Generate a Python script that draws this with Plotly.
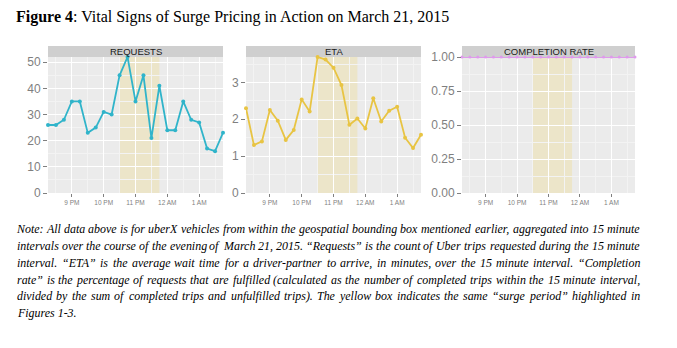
import pandas as pd
import plotly.graph_objects as go

# ---------------- data ----------------
times = pd.date_range("2015-03-21 20:15", periods=23, freq="15min")
requests = [26, 26, 28, 35, 35, 23, 25, 31, 30, 45, 52, 35, 45, 21, 41, 24, 24, 35, 28, 27, 17, 16, 23]
eta = [2.30, 1.30, 1.40, 2.25, 1.96, 1.44, 1.71, 2.54, 2.21, 3.69, 3.62, 3.40, 2.93,
       1.85, 2.02, 1.75, 2.57, 1.94, 2.23, 2.34, 1.50, 1.22, 1.58]
completion = [1.0] * 23

surge_start = pd.Timestamp("2015-03-21 22:30")
surge_end = pd.Timestamp("2015-03-21 23:45")

x_tick_vals = pd.to_datetime(["2015-03-21 21:00", "2015-03-21 22:00", "2015-03-21 23:00",
                              "2015-03-22 00:00", "2015-03-22 01:00"])
x_tick_labels = ["9 PM", "10 PM", "11 PM", "12 AM", "1 AM"]

panel_titles = ["REQUESTS", "ETA", "COMPLETION RATE"]
y_ticks_req = [0, 10, 20, 30, 40, 50]
y_ticks_eta = [0, 1, 2, 3]
y_ticks_comp = [0, 0.25, 0.5, 0.75, 1.0]
y_labels_comp = ["0.00", "0.25", "0.50", "0.75", "1.00"]

title_bold = "Figure 4"
title_rest = ": Vital Signs of Surge Pricing in Action on March 21, 2015"

note_lines = [
    "Note: All data above is for uberX vehicles from within the geospatial bounding box mentioned earlier, aggregated into 15 minute",
    "intervals over the course of the evening of March 21, 2015.  “Requests” is the count of Uber trips requested during the 15 minute",
    "interval. “ETA” is the average wait time for a driver-partner to arrive, in minutes, over the 15 minute interval. “Completion",
    "rate” is the percentage of requests that are fulfilled (calculated as the number of completed trips within the 15 minute interval,",
    "divided by the sum of completed trips and unfulfilled trips). The yellow box indicates the same “surge period” highlighted in",
    "Figures 1-3.",
]

# ---------------- layout geometry ----------------
W, H = 677, 348
def px_x(v):
    return v / W
def px_y(v):
    return 1 - v / H

panels_x = [(48, 223), (246, 421), (462, 635)]
plot_top, plot_bot = 57, 193
strip_top = 46

series = [requests, eta, completion]
colors = ["#30B4CA", "#E8C443", "#DF9AEC"]
y_ranges = [[0, max(requests)], [0, max(eta)], [0, 1]]
y_tickvals = [y_ticks_req, y_ticks_eta, y_ticks_comp]
y_ticktext = [[str(v) for v in y_ticks_req], [str(v) for v in y_ticks_eta], y_labels_comp]
y_minor = [5, 0.5, 0.125]
marker_sizes = [4, 4, 3]

fig = go.Figure()
shapes = []
annotations = []
axis_font = dict(family="Liberation Sans", color="#7F7F7F")

for i in range(3):
    xa = "x" if i == 0 else f"x{i+1}"
    ya = "y" if i == 0 else f"y{i+1}"
    fig.add_trace(go.Scatter(
        x=times, y=series[i], mode="lines+markers", xaxis=xa, yaxis=ya,
        line=dict(color=colors[i], width=1.8), marker=dict(color=colors[i], size=marker_sizes[i]),
        cliponaxis=False, showlegend=False, hoverinfo="skip"))
    l, r = panels_x[i]
    fig.layout[f"xaxis{'' if i == 0 else i+1}"] = dict(
        domain=[px_x(l), px_x(r)], anchor=ya, range=[times[0], times[-1]],
        tickvals=x_tick_vals, ticktext=x_tick_labels, tickfont=dict(size=6.5, **axis_font),
        ticks="outside", ticklen=3, tickcolor="#7F7F7F", showgrid=True, gridcolor="white",
        gridwidth=1, zeroline=False, showline=False, automargin=False,
        minor=dict(dtick=30 * 60 * 1000, tick0="2015-03-21 20:30", showgrid=True,
                   gridcolor="#F3F3F3", gridwidth=0.6, ticks=""))
    fig.layout[f"yaxis{'' if i == 0 else i+1}"] = dict(
        domain=[px_y(plot_bot), px_y(plot_top)], anchor=xa, range=y_ranges[i],
        tickvals=y_tickvals[i], ticktext=y_ticktext[i], tickfont=dict(size=12, **axis_font),
        ticks="outside", ticklen=4, tickcolor="#7F7F7F", showgrid=True, gridcolor="white",
        gridwidth=1, zeroline=False, showline=False, automargin=False,
        minor=dict(dtick=y_minor[i], showgrid=True, gridcolor="#F3F3F3", gridwidth=0.6, ticks=""))
    # surge band
    shapes.append(dict(type="rect", xref=xa, yref="paper", x0=surge_start, x1=surge_end,
                       y0=px_y(plot_bot), y1=px_y(plot_top), fillcolor="rgba(238,226,180,0.62)",
                       line=dict(width=0), layer="between"))
    # strip
    shapes.append(dict(type="rect", xref="paper", yref="paper", x0=px_x(l), x1=px_x(r),
                       y0=px_y(plot_top), y1=px_y(strip_top), fillcolor="#CFCFCF",
                       line=dict(width=0), layer="below"))
    annotations.append(dict(text=panel_titles[i], xref="paper", yref="paper",
                            x=px_x((l + r) / 2), y=px_y((strip_top + plot_top) / 2),
                            xanchor="center", yanchor="middle", showarrow=False, borderpad=0,
                            font=dict(family="Liberation Sans", size=9.5, color="#1A1A1A")))

# title
annotations.append(dict(text=f"<b>{title_bold}</b>{title_rest}", xref="paper", yref="paper",
                        x=px_x(16), y=px_y(17), xanchor="left", yanchor="middle", showarrow=False,
                        borderpad=0, borderwidth=0,
                        font=dict(family="Liberation Serif", size=16, color="black")))

# justified note (word-by-word placement), width estimates from Times Italic metrics
cw = dict(zip("abcdefghijklmnopqrstuvwxyz",
              [500, 500, 444, 500, 444, 278, 500, 500, 278, 278, 444, 278, 722, 500, 500, 500,
               500, 389, 389, 278, 500, 444, 667, 444, 444, 389]))
cw.update(dict(zip("ABCDEFGHIJKLMNOPQRSTUVWXYZ",
                   [611, 611, 667, 722, 611, 611, 722, 722, 333, 444, 667, 556, 833, 667, 722, 611,
                    722, 611, 500, 556, 722, 611, 833, 611, 556, 556])))
cw.update({d: 500 for d in "0123456789"})
cw.update({".": 250, ",": 250, ":": 333, "-": 333, "(": 333, ")": 333, "“": 556, "”": 556})

def units(word):
    return sum(cw.get(c, 500) for c in word) / 1000.0

L, R = 17, 640
line_y = [229, 246, 262.5, 279.5, 296, 313]
fs = min((R - L) / (sum(units(w) for w in ln.split()) + 0.27 * (len(ln.split()) - 1))
         for ln in note_lines[:-1])
note_font = dict(family="Liberation Serif", size=fs, color="black", style="italic")
for k, ln in enumerate(note_lines):
    words = ln.split()
    y = px_y(line_y[k])
    if k == len(note_lines) - 1:
        annotations.append(dict(text=ln, xref="paper", yref="paper", x=px_x(L), y=y,
                                xanchor="left", yanchor="middle", showarrow=False, borderpad=0,
                                borderwidth=0, font=note_font))
        continue
    widths = [units(w) * fs for w in words]
    gap = (R - L - sum(widths)) / (len(words) - 1)
    xpos = L
    for j, w in enumerate(words):
        annotations.append(dict(text=w, xref="paper", yref="paper", x=px_x(xpos + widths[j] / 2), y=y,
                                xanchor="center", yanchor="middle", showarrow=False, borderpad=0,
                                font=note_font))
        xpos += widths[j] + gap

fig.update_layout(width=W, height=H, margin=dict(l=0, r=0, t=0, b=0),
                  paper_bgcolor="white", plot_bgcolor="#EBEBEB",
                  shapes=shapes, annotations=annotations)
fig.write_html("out.html")
